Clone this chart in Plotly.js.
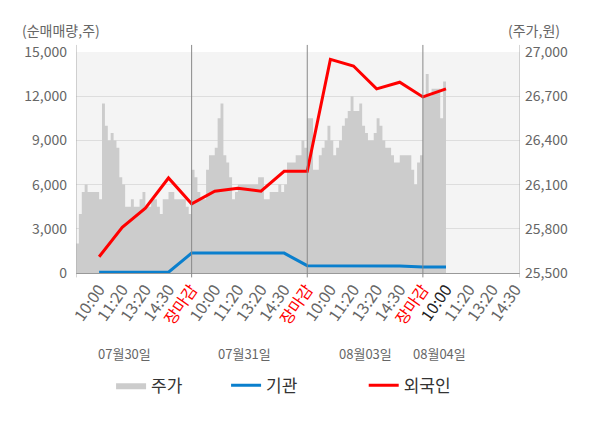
<!DOCTYPE html>
<html>
<head>
<meta charset="utf-8">
<script src="https://cdn.plot.ly/plotly-3.0.1.min.js"></script>
<style>
  html, body { margin: 0; padding: 0; background: #fff; }
  #chart { width: 600px; height: 428px; }
</style>
</head>
<body>
<div id="chart"></div>
<script>
// tick labels along the x axis (5 slots per trading day)
var slotLabels = ['10:00', '11:20', '13:20', '14:30', '장마감'];
var dayLabels = ['07월30일', '07월31일', '08월03일', '08월04일'];
var dayLabelPos = [2.1, 7.3, 12.5, 15.7];

// price (주가, 원) sampled through each day
var price0730 = [25700, 25900, 26050, 26100, 26050, 26050, 26050, 26050, 26000, 26650,
                 26500, 26400, 26450, 26400, 26350, 26150, 26100, 25950, 25950, 26000,
                 25950, 25950, 26000, 26050, 25950, 25950, 26000, 26000, 25950, 25900,
                 26000, 26000, 26050, 26050, 26000, 26000, 26000, 26000, 25950, 25900];
var price0731 = [26200, 26150, 26050, 26000, 26000, 26200, 26300, 26300, 26350, 26550,
                 26650, 26300, 26250, 26150, 26000, 26050, 26100, 26100, 26100, 26100,
                 26100, 26100, 26100, 26150, 26150, 26000, 26000, 26050, 26050, 26050,
                 26100, 26050, 26100, 26250, 26250, 26250, 26300, 26300, 26400, 26350];
var price0803 = [26550, 26550, 26200, 26200, 26300, 26350, 26400, 26500, 26400, 26300,
                 26350, 26400, 26500, 26550, 26600, 26700, 26600, 26600, 26650, 26500,
                 26450, 26400, 26400, 26450, 26550, 26500, 26400, 26350, 26350, 26300,
                 26250, 26250, 26300, 26300, 26300, 26300, 26200, 26100, 26250, 26300];
var price0804 = [26700, 26850, 26700, 26750, 26750, 26750, 26550, 26800];

// net buying (순매매량, 주) at each labelled time
var instNet = [50, 50, 50, 50, 1350, 1350, 1350, 1350, 1350, 500, 500, 500, 500, 470, 400, 400];
var foreignNet = [1100, 3100, 4400, 6450, 4700, 5550, 5750, 5550, 6900, 6900,
                  14500, 14050, 12500, 12950, 11950, 12500];

var days = [price0730, price0731, price0803, price0804];
var perDay = 40;
var px = [], py = [];
days.forEach(function (arr, d) {
  arr.forEach(function (v, i) {
    px.push(d * 5 + i * 5 / perDay);
    py.push(v);
  });
});
// close the last bar
px.push(px[px.length - 1] + 5 / perDay);
py.push(py[py.length - 1]);

var slotX = foreignNet.map(function (v, i) { return i + 1; });

var tickvals = [], ticktext = [];
for (var s = 1; s <= 19; s++) {
  var lab = slotLabels[(s - 1) % 5];
  if (lab === '장마감') lab = '<span style="color:#ff0000">' + lab + '</span>';
  else if (s === 16) lab = '<span style="color:#222">' + lab + '</span>';
  tickvals.push(s);
  ticktext.push(lab);
}

var traces = [
  {
    x: px, y: py, name: '주가', type: 'scatter', mode: 'lines',
    line: {shape: 'hv', width: 0, color: '#cccccc'},
    fill: 'tozeroy', fillcolor: '#cccccc', yaxis: 'y', legend: 'legend',
    hoverinfo: 'skip'
  },
  {
    x: slotX, y: instNet, name: '기관', type: 'scatter', mode: 'lines',
    line: {color: '#0a7fcd', width: 3}, yaxis: 'y2', legend: 'legend2'
  },
  {
    x: slotX, y: foreignNet, name: '외국인', type: 'scatter', mode: 'lines',
    line: {color: '#ff0000', width: 3}, yaxis: 'y2', legend: 'legend3'
  }
];

var shapes = [];
[0, 5, 10, 15, 19.2].forEach(function (b) {
  shapes.push({
    type: 'line', xref: 'x', yref: 'paper', x0: b, x1: b, y0: -0.02, y1: 1.032,
    line: {color: (b === 0 || b === 19.2) ? '#aaaaaa' : '#888888', width: 1}
  });
});

var annotations = dayLabels.map(function (t, i) {
  return {text: t, x: dayLabelPos[i], xref: 'x', y: -0.362, yref: 'paper', yanchor: 'middle',
          showarrow: false, font: {size: 13, color: '#666'}};
});
annotations.push({text: '(순매매량,주)', x: -0.126, xref: 'paper', xanchor: 'left',
                  y: 1.1, yref: 'paper', yanchor: 'middle', showarrow: false,
                  font: {size: 14, color: '#666'}});
annotations.push({text: '(주가,원)', x: 1.095, xref: 'paper', xanchor: 'right',
                  y: 1.1, yref: 'paper', yanchor: 'middle', showarrow: false,
                  font: {size: 14, color: '#666'}});

function legendAt(x) {
  return {orientation: 'h', x: x, xanchor: 'left', y: -0.51, yanchor: 'middle',
          font: {size: 17, color: '#333'}, bgcolor: 'rgba(0,0,0,0)'};
}

var layout = {
  width: 600, height: 428,
  margin: {l: 76, r: 80, t: 52, b: 155},
  paper_bgcolor: '#ffffff',
  plot_bgcolor: '#f4f4f4',
  font: {family: '"Noto Sans CJK KR", "Noto Sans", sans-serif', size: 14, color: '#666'},
  xaxis: {
    range: [0, 19.2], tickvals: tickvals, ticktext: ticktext, tickangle: -55,
    showgrid: false, zeroline: false, showline: true, linecolor: '#999', ticks: '',
    tickfont: {size: 16, color: '#666'}
  },
  yaxis: {
    side: 'right', range: [25500, 27000], tick0: 25500, dtick: 300, tickformat: ',d',
    showgrid: true, gridcolor: '#dddddd', zeroline: false, ticks: '',
    ticklabelstandoff: 4
  },
  yaxis2: {
    overlaying: 'y', side: 'left', range: [0, 15000], tick0: 0, dtick: 3000, tickformat: ',d',
    showgrid: false, zeroline: false, ticks: '', ticklabelstandoff: 8
  },
  legend: legendAt(0.079),
  legend2: legendAt(0.338),
  legend3: legendAt(0.648),
  shapes: shapes,
  annotations: annotations,
  showlegend: true
};

Plotly.newPlot('chart', traces, layout, {displayModeBar: false, staticPlot: true});
</script>
</body>
</html>
